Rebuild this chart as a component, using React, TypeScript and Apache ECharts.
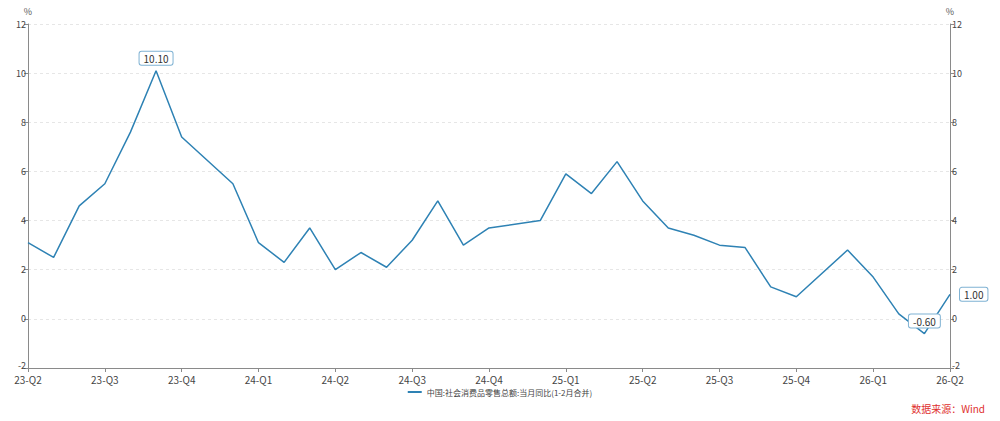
import React, { useEffect, useRef } from "react";
import * as echarts from "echarts";

const months: string[] = [
  "2023-06","2023-07","2023-08","2023-09","2023-10","2023-11","2023-12",
  "2024-01","2024-02","2024-03","2024-04","2024-05","2024-06","2024-07","2024-08","2024-09","2024-10","2024-11","2024-12",
  "2025-01","2025-02","2025-03","2025-04","2025-05","2025-06","2025-07","2025-08","2025-09","2025-10","2025-11","2025-12",
  "2026-01","2026-02","2026-03","2026-04","2026-05","2026-06",
];

const retailYoY: (number | null)[] = [
  3.1, 2.5, 4.6, 5.5, 7.6, 10.1, 7.4,
  null, 5.5, 3.1, 2.3, 3.7, 2.0, 2.7, 2.1, 3.2, 4.8, 3.0, 3.7,
  null, 4.0, 5.9, 5.1, 6.4, 4.8, 3.7, 3.4, 3.0, 2.9, 1.3, 0.9,
  null, 2.8, 1.7, 0.2, -0.6, 1.0,
];

const quarterLabels: string[] = [
  "23-Q2","23-Q3","23-Q4","24-Q1","24-Q2","24-Q3","24-Q4",
  "25-Q1","25-Q2","25-Q3","25-Q4","26-Q1","26-Q2",
];

const seriesName = "中国:社会消费品零售总额:当月同比(1-2月合并)";
const sourceText = "数据来源：Wind";

// indices of annotated points
const markedPoints: { idx: number; pos: string }[] = [
  { idx: 5, pos: "top" },
  { idx: 35, pos: "top" },
  { idx: 36, pos: "right" },
];

const FONT = "'Microsoft YaHei', 'Noto Sans CJK SC', 'Noto Sans', sans-serif";
const LINE = "#2e82b4";
const Y_MIN = -2;

export default function App() {
  const ref = useRef<HTMLDivElement>(null);
  useEffect(() => {
    if (!ref.current) return;
    const chart = echarts.init(ref.current, undefined, { renderer: "svg" });
    const axisCommon = {
      type: "value" as const,
      min: Y_MIN,
      max: 12,
      interval: 2,
      name: "%",
      nameLocation: "end" as const,
      nameGap: 8,
      nameTextStyle: { color: "#555", fontSize: 9, fontFamily: FONT },
      axisLine: { show: true, lineStyle: { color: "#8a8a8a", width: 1 } },
      axisTick: { show: true, length: 4, lineStyle: { color: "#8a8a8a" } },
      axisLabel: {
        color: "#444",
        fontSize: 9,
        lineHeight: 9,
        margin: 2,
        fontFamily: FONT,
        formatter: (v: number) => (v === Y_MIN ? `{lo|${v}}` : `${v}`),
        rich: {
          lo: { color: "#444", fontSize: 9, lineHeight: 9, padding: [0, 0, 5, 0], fontFamily: FONT },
        },
      },
    };
    chart.setOption({
      animation: false,
      textStyle: { fontFamily: FONT },
      grid: { left: 28, right: 50, top: 24, bottom: 53, containLabel: false },
      legend: {
        bottom: 20,
        left: "center",
        itemWidth: 14,
        itemHeight: 2,
        itemGap: 4,
        icon: "rect",
        textStyle: { color: "#444", fontSize: 8, fontFamily: FONT },
        data: [seriesName],
      },
      graphic: [
        {
          type: "text",
          right: 15,
          bottom: 8,
          style: { text: sourceText, fill: "#e0302e", fontSize: 10, fontFamily: FONT },
        },
      ],
      xAxis: {
        type: "category",
        data: months,
        boundaryGap: false,
        axisLine: { onZero: false, lineStyle: { color: "#8a8a8a" } },
        axisTick: { interval: 2, length: 4, lineStyle: { color: "#8a8a8a" } },
        axisLabel: {
          interval: 2,
          color: "#444",
          fontSize: 10,
          lineHeight: 11,
          margin: 6,
          fontFamily: FONT,
          formatter: (_v: string, i: number) => quarterLabels[Math.round(i / 3)] ?? "",
        },
        splitLine: { show: false },
      },
      yAxis: [
        {
          ...axisCommon,
          position: "left",
          splitLine: { show: true, lineStyle: { color: "#e6e6e6", type: [3, 3] } },
        },
        {
          ...axisCommon,
          position: "right",
          splitLine: { show: false },
        },
      ],
      series: [
        {
          name: seriesName,
          type: "line",
          data: retailYoY,
          connectNulls: true,
          showSymbol: false,
          symbol: "none",
          lineStyle: { color: LINE, width: 1.5 },
          itemStyle: { color: LINE },
          markPoint: {
            symbol: "circle",
            symbolSize: 0,
            data: markedPoints.map((m) => ({
              coord: [months[m.idx], retailYoY[m.idx]],
              value: retailYoY[m.idx],
              label: {
                show: true,
                position: m.pos,
                distance: m.pos === "top" ? 6 : 10,
                formatter: (p: any) => Number(p.value).toFixed(2),
                color: "#333",
                fontSize: 10,
                fontFamily: FONT,
                backgroundColor: "#fff",
                borderColor: "#7fb2d3",
                borderWidth: 1,
                borderRadius: 2,
                padding: [2, 4, 1, 4],
              },
            })),
          },
        },
      ],
    });
    return () => chart.dispose();
  }, []);
  return (
    <div
      ref={ref}
      style={{ position: "fixed", left: 0, top: 0, width: 1000, height: 421, background: "#fff" }}
    />
  );
}
